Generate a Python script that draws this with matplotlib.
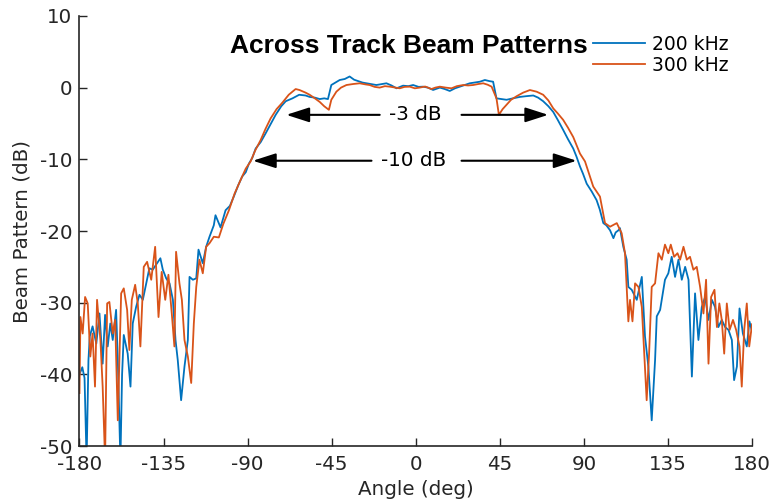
import numpy as np
import matplotlib
matplotlib.use("Agg")
import matplotlib.pyplot as plt

plt.rcParams['axes.unicode_minus'] = False

# beam pattern samples (angle in deg, level in dB)
ang_200 = [-180, -178.5, -177.3, -176.2, -175.2, -174.5, -173, -171, -169.3, -167.6, -166.3, -164.9,
           -163.5, -162.2, -160.4, -159.5, -158.1, -157.2, -156.3, -154.2, -152.7, -151.5, -149.7,
           -147.9, -146.1, -144.3, -142.6, -140.8, -139, -136.7, -135.4, -133.6, -131.8, -130,
           -128.6, -127.4, -125.6, -123.8, -122, -121.1, -119.3, -117.5, -116.3, -114, -112.2,
           -110.4, -108.1, -107.2, -104.5, -101.8, -99.5, -97.4, -95, -92.9, -91, -89.3, -87.5, -85.7,
           -83, -80.4, -77.5, -75, -72, -69.6, -66, -62.4, -59, -56.8, -54, -51.4, -49, -47, -45.2,
           -43, -40.7, -38, -35.4, -33, -30.9, -28.5, -26.4, -23.5, -21.1, -18, -15.7, -13, -10.3,
           -6.8, -4, -1.4, 1.5, 3.9, 6.5, 9.3, 12.9, 15.5, 18.2, 21, 23.6, 26, 28.9, 31.5, 34.3, 37,
           39.5, 41.4, 43.2, 46, 48.6, 52, 55.7, 59, 62.9, 65.5, 68.2, 71, 73.6, 76, 78.9, 81.5, 84.3,
           86, 87.9, 89.5, 91.5, 94.2, 96.8, 98.5, 100.4, 102, 104, 105.8, 107, 108.5, 109.3, 111.1,
           112.9, 113.8, 115.6, 118.3, 121, 122.7, 124.5, 126.3, 128.1, 129, 130.8, 133.4, 135.2,
           137, 138.8, 140.6, 142.4, 144.2, 146, 147.8, 149.5, 151.3, 153.1, 154.9, 156.7, 158.5,
           160.2, 162, 163.8, 165.6, 167.4, 169.2, 170.4, 171.9, 173.3, 175.1, 177.2, 178.6, 180]
db_200 = [-40.0, -39.0, -40.5, -52, -38, -34.7, -33.3, -35.7, -31.5, -38.5, -31.7, -36.1,
          -32.9, -35.2, -31, -38, -52, -40, -34.5, -37.1, -41.7, -32.9, -30.6,
          -28.9, -29.6, -27.3, -25.2, -25.4, -24.7, -23.8, -25.4, -26.6, -27.3, -29.6,
          -35.2, -38, -43.6, -38.9, -35.2, -26.4, -26.8, -26.6, -22.6, -24.5, -22.2,
          -20.8, -19.2, -17.8, -19.5, -17.1, -16.5, -15.2, -13.6, -12.4, -11.8, -10.6, -9.8, -8.5,
          -7.6, -6.4, -5.0, -3.8, -2.6, -1.9, -1.5, -1.0, -1.1, -1.3, -1.4, -1.6, -1.5, -1.6, 0.36,
          0.7, 1.06, 1.2, 1.55, 1.1, 0.92, 0.7, 0.6, 0.45, 0.36, 0.5, 0.6, 0.3, -0.1,
          0.27, 0.2, 0.36, 0.1, 0.13, 0.0, -0.33, 0.0, -0.2, -0.47, -0.1, 0.13, 0.35, 0.6, 0.7, 0.82, 1.06,
          0.9, 0.82, -1.5, -1.6, -1.7, -1.5, -1.3, -1.2, -1.1, -1.4, -1.9, -2.6, -3.4, -4.5, -5.9, -7.2, -8.5,
          -9.6, -11.0, -12.0, -13.4, -14.5, -15.7, -17.0, -18.9, -19.2, -19.9, -21, -20.2, -19.9, -19.6, -22.2,
          -24, -27.8, -28.2, -29.6, -26.4, -34.7, -38.9, -46.4, -38, -31.9, -31, -26.8, -25.9,
          -23.6, -26.4, -24, -26.8, -25, -26.8, -40.3, -28.7, -35.2, -30.6, -29.2, -32.4, -29.6,
          -30.6, -33.4, -32.4, -33.4, -33.8, -35.2, -40.8, -38.9, -30.8, -34.3, -36.1, -32.6, -34]

ang_300 = [-180, -179.5, -178.3, -177, -175.6, -174.2, -173, -171.7, -170.6, -168.8, -167.6, -166.3,
           -165.2, -164, -162.2, -160.9, -159.5, -157.7, -156.3, -154.5, -153.3, -152, -150.2,
           -148.8, -147.4, -145.6, -143.8, -141.6, -139.5, -137.7, -136, -134.1, -132.4, -130.6,
           -129.2, -128.3, -126.5, -125.2, -123.8, -122, -120.2, -118.8, -117.5, -115.8, -114,
           -112.2, -110.4, -108.1, -105.4, -103, -100, -97, -93.8, -91, -88.4, -86, -83, -80.5, -77.7,
           -74.5, -71.4, -68, -64.3, -62.2, -59, -56.8, -54, -51.4, -49, -46.5, -45.2, -42.5, -40,
           -37.1, -33.5, -30, -27, -24.7, -22, -19.3, -16.5, -13.9, -11, -8.6, -6, -3.2, -0.5, 2.1, 5,
           8.4, 10.5, 12.9, 16, 19.1, 22, 25.4, 28, 30.7, 33.5, 36.1, 38.5, 40.6, 43.2, 44.5, 46.5,
           48.6, 51, 54, 57.5, 61.1, 64.7, 68.2, 71, 73.6, 76, 78.9, 81.5, 84.3, 86, 87.9, 90.6, 93,
           95, 98.6, 101.3, 104, 107.6, 110.2, 112, 113.8, 114.7, 116, 117.4, 119.2, 121, 122.3,
           123.6, 124.9, 126.3, 128.1, 129.9, 131.7, 133.4, 135.2, 136.5, 138.3, 140.1, 141.5,
           143.3, 145.1, 146.8, 148.6, 150.4, 152.2, 154, 155.4, 156.7, 158.1, 159.9, 161.2,
           162.5, 163.8, 165.1, 166.5, 168, 169.8, 171.5, 173.3, 174.5, 175.8, 177.2, 178.5, 180]
db_300 = [-42.6, -32, -34.3, -29.2, -30.1, -37.5, -34.3, -41.7, -29.6, -35.2, -41.7, -52,
          -30.1, -29.9, -34.3, -32.4, -46.4, -28.7, -28, -31, -36.6, -29.6, -27.5,
          -30.1, -36.1, -25, -24.3, -26.8, -22.2, -32, -25.7, -29.6, -26.1, -31.5,
          -36.1, -22.9, -27.3, -29.6, -35.2, -37.5, -41.2, -32.9, -27.8, -24, -25.9,
          -22.2, -21.7, -20.8, -20.9, -19.0, -17.1, -14.8, -12.9, -11.3, -10.3, -8.8, -7.3, -5.8, -4.3,
          -3.0, -2.1, -1.0, -0.2, -0.34, -0.7, -1.0, -1.5, -2.0, -2.6, -3.1, -1.7, -0.57, 0.0,
          0.36, 0.5, 0.6, 0.45, 0.36, 0.1, 0.0, 0.2, 0.13, 0.0, -0.1, 0.1, 0.13, -0.1, 0.0, 0.15,
          -0.2, 0.0, 0.13, 0.0, -0.1, 0.2, 0.36, 0.3, 0.36, 0.5, 0.6, 0.4, 0.13, -1.5, -3.8, -3.0,
          -2.4, -1.7, -1.2, -0.7, -0.34, -0.57, -1.0, -1.8, -2.9, -3.6, -4.5, -5.6, -6.9, -8.0, -9.2, -10.3, -12.2,
          -13.8, -15.2, -18.9, -19.4, -18.9, -20.3, -23.1, -32.6, -29.6, -32.6, -27.3, -27.8, -30.6, -37.1,
          -43.6, -37.1, -27.8, -27.3, -23.1, -24, -21.9, -23.1, -21.9, -23.6, -23.1, -24,
          -22.2, -24, -23.6, -25.4, -25, -27.8, -31.5, -26.8, -38.5, -29.2, -28.2, -33.4,
          -30.1, -32.4, -37.1, -30.1, -33.8, -32.4, -33.8, -36.1, -41.7, -33.8, -30.1, -36.1, -33]

series_labels = ['200 kHz', '300 kHz']
xticks = [-180, -135, -90, -45, 0, 45, 90, 135, 180]
yticks = [-50, -40, -30, -20, -10, 0, 10]

fig = plt.figure(figsize=(7.71, 5.03), dpi=100)
ax = fig.add_axes([0.1031, 0.1131, 0.8723, 0.8553])

ax.plot(ang_200, db_200, color='#0072BD', lw=1.3, label=series_labels[0])
ax.plot(ang_300, db_300, color='#D95319', lw=1.3, label=series_labels[1])

ax.set_xlim(-180, 180)
ax.set_ylim(-50, 10)
ax.set_xticks(xticks)
ax.set_yticks(yticks)
ax.spines['top'].set_visible(False)
ax.spines['right'].set_visible(False)
for s in ['left', 'bottom']:
    ax.spines[s].set_color('#262626')
    ax.spines[s].set_linewidth(1.2)
ax.tick_params(direction='in', length=5.5, width=1.0, color='#262626',
               labelcolor='#262626', labelsize=14.3)
ax.tick_params(axis='y', pad=5)
ax.tick_params(axis='x', pad=6.5)
ax.set_xlabel('Angle (deg)', fontsize=14.3, color='#262626', labelpad=4)
ax.set_ylabel('Beam Pattern (dB)', fontsize=14.3, color='#262626', labelpad=6)

ax.text(0.49, 0.9138, 'Across Track Beam Patterns', transform=ax.transAxes,
        ha='center', va='baseline', fontsize=19, fontweight='bold',
        family='Liberation Sans', color='black')

ax.legend(loc='upper left', bbox_to_anchor=(0.7636, 0.956), frameon=False,
          fontsize=13.5, handlelength=2.77, handletextpad=0.37, labelspacing=0.1,
          borderpad=0, borderaxespad=0)

arrow = dict(arrowstyle='-|>,head_length=1.4,head_width=0.45', color='black',
             lw=1.5, mutation_scale=10, shrinkA=0, shrinkB=0)
ax.annotate('', xy=(-69.3, -3.8), xytext=(-19.3, -3.8), arrowprops=arrow)
ax.annotate('', xy=(70.9, -3.8), xytext=(24.5, -3.8), arrowprops=arrow)
ax.text(-0.5, -3.8, '-3 dB', ha='center', va='center', fontsize=14.3, color='black')
ax.annotate('', xy=(-87.2, -10.2), xytext=(-23.7, -10.2), arrowprops=arrow)
ax.annotate('', xy=(86.1, -10.2), xytext=(24.5, -10.2), arrowprops=arrow)
ax.text(-1.4, -10.2, '-10 dB', ha='center', va='center', fontsize=14.3, color='black')

plt.savefig('out.png', dpi=100)
